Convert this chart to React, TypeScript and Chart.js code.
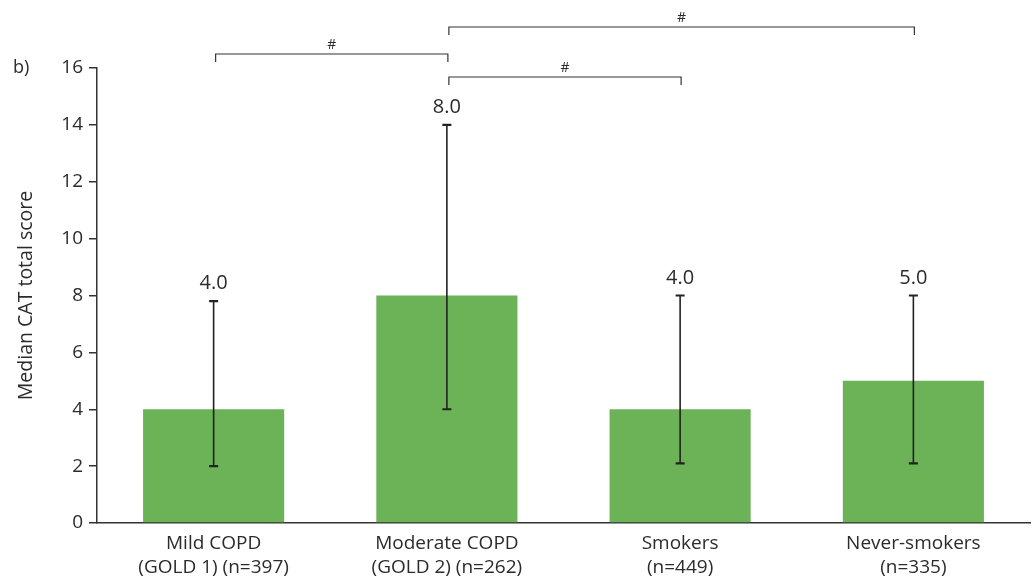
import React, { useEffect, useRef } from "react";
import { Chart, registerables } from "chart.js";

Chart.register(...registerables);

const categories: string[][] = [
  ["Mild COPD", "(GOLD 1) (n=397)"],
  ["Moderate COPD", "(GOLD 2) (n=262)"],
  ["Smokers", "(n=449)"],
  ["Never-smokers", "(n=335)"],
];
const medians: number[] = [4.0, 8.0, 4.0, 5.0];
const errLow: number[] = [2.0, 4.0, 2.1, 2.1];
const errHigh: number[] = [7.8, 14.0, 8.0, 8.0];
const valueLabels: string[] = ["4.0", "8.0", "4.0", "5.0"];
const yTicks: number[] = [0, 2, 4, 6, 8, 10, 12, 14, 16];
// brackets: from category index, to category index, pixel level, label
const bracketFrom: number[] = [0, 1, 1];
const bracketTo: number[] = [1, 3, 2];
const bracketY: number[] = [54, 27, 77];
const bracketLabels: string[] = ["#", "#", "#"];

const TEXT = "#2b2b2b";
const FONT = "'Open Sans', 'DejaVu Sans', sans-serif";

const overlayPlugin = {
  id: "overlay",
  afterDatasetsDraw(chart: any) {
    const ctx = chart.ctx;
    const xs = chart.scales.x;
    const ys = chart.scales.y;
    ctx.save();
    // error bars
    ctx.strokeStyle = "#222";
    for (let i = 0; i < medians.length; i++) {
      const x = xs.getPixelForValue(i);
      const yl = ys.getPixelForValue(errLow[i]);
      const yh = ys.getPixelForValue(errHigh[i]);
      ctx.lineWidth = 1.6;
      ctx.beginPath();
      ctx.moveTo(x, yl);
      ctx.lineTo(x, yh);
      ctx.stroke();
      ctx.lineWidth = 2.2;
      ctx.beginPath();
      ctx.moveTo(x - 4.5, yl);
      ctx.lineTo(x + 4.5, yl);
      ctx.moveTo(x - 4.5, yh);
      ctx.lineTo(x + 4.5, yh);
      ctx.stroke();
      // value label
      ctx.fillStyle = TEXT;
      ctx.font = `20px ${FONT}`;
      ctx.textAlign = "center";
      ctx.textBaseline = "alphabetic";
      ctx.fillText(valueLabels[i], x, yh - 12);
    }
    // brackets
    ctx.strokeStyle = "#333";
    ctx.lineWidth = 1.2;
    for (let b = 0; b < bracketFrom.length; b++) {
      const x1 = xs.getPixelForValue(bracketFrom[b]) + 2;
      const x2 = xs.getPixelForValue(bracketTo[b]) + 1;
      const y = bracketY[b];
      ctx.beginPath();
      ctx.moveTo(x1, y + 8);
      ctx.lineTo(x1, y);
      ctx.lineTo(x2, y);
      ctx.lineTo(x2, y + 8);
      ctx.stroke();
      ctx.fillStyle = TEXT;
      ctx.font = `14px ${FONT}`;
      ctx.textAlign = "center";
      ctx.textBaseline = "alphabetic";
      ctx.fillText(bracketLabels[b], (x1 + x2) / 2, y - 5);
    }
    // panel label
    ctx.font = `18px ${FONT}`;
    ctx.textAlign = "left";
    ctx.textBaseline = "middle";
    ctx.fillText("b)", 13, 68);
    ctx.restore();
  },
};

export default function App() {
  const ref = useRef<HTMLCanvasElement | null>(null);
  useEffect(() => {
    document.body.style.margin = "0";
    if (!ref.current) return;
    const chart = new Chart(ref.current, {
      type: "bar",
      data: {
        labels: categories,
        datasets: [
          {
            data: medians,
            backgroundColor: "#6cb257",
            borderWidth: 0,
            barPercentage: 0.605,
            categoryPercentage: 1,
          },
        ],
      },
      options: {
        animation: false,
        responsive: false,
        maintainAspectRatio: false,
        layout: { padding: { top: 68, right: 4, left: 0, bottom: 0 } },
        plugins: {
          legend: { display: false },
          tooltip: { enabled: false },
        },
        scales: {
          x: {
            grid: { display: false, drawTicks: false },
            border: { display: true, color: "#333", width: 1.5 },
            ticks: {
              color: TEXT,
              font: { family: FONT, size: 19, lineHeight: 1.25 },
              padding: 9,
              maxRotation: 0,
            },
            afterFit(scale: any) {
              scale.height = 60;
            },
          },
          y: {
            min: 0,
            max: 16,
            afterBuildTicks(scale: any) {
              scale.ticks = yTicks.map((v) => ({ value: v }));
            },
            grid: {
              drawOnChartArea: false,
              drawTicks: true,
              tickLength: 8,
              color: "#333",
              lineWidth: 1.5,
            },
            border: { display: true, color: "#333", width: 1.5 },
            ticks: {
              color: TEXT,
              font: { family: FONT, size: 19 },
              padding: 6,
            },
            title: {
              display: true,
              text: "Median CAT total score",
              color: TEXT,
              font: { family: FONT, size: 19.5 },
              padding: { top: 15, bottom: 4 },
            },
            afterFit(scale: any) {
              scale.width = 97;
            },
          },
        },
      },
      plugins: [overlayPlugin],
    });
    return () => chart.destroy();
  }, []);
  return (
    <div style={{ width: 1034, height: 583 }}>
      <canvas ref={ref} width={1034} height={583} style={{ display: "block" }} />
    </div>
  );
}
